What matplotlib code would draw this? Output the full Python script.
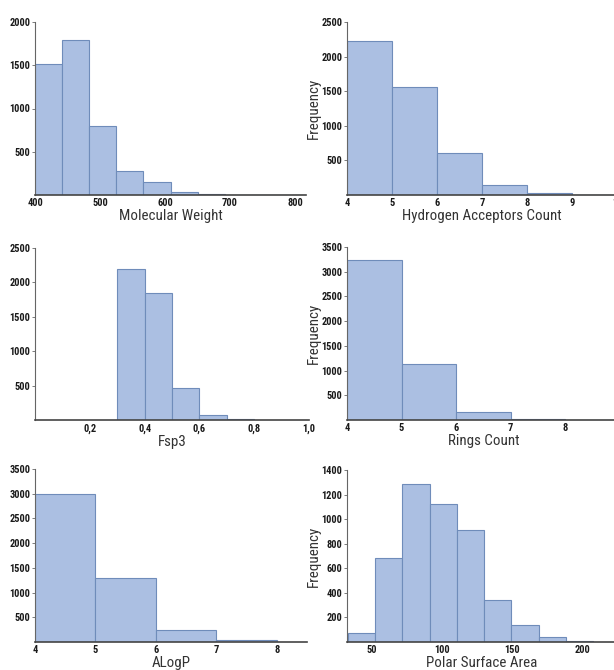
import numpy as np
import matplotlib
matplotlib.use("Agg")
import matplotlib.pyplot as plt

W, H = 614, 670

# histogram data (bin edges + counts)
mw_edges = [400, 441.7, 483.4, 525.1, 566.8, 608.5, 650.2, 691.9, 733.6, 775.3, 817]
mw_counts = [1510, 1790, 800, 275, 150, 35, 6, 2, 1, 1]

hba_edges = [4, 5, 6, 7, 8, 9, 10]
hba_counts = [2220, 1560, 600, 150, 30, 5]

fsp3_edges = [0.3, 0.4, 0.5, 0.6, 0.7, 0.8]
fsp3_counts = [2200, 1850, 460, 70, 15]

rings_edges = [4, 5, 6, 7, 8, 9]
rings_counts = [3230, 1140, 170, 30, 3]

alogp_edges = [4, 5, 6, 7, 8]
alogp_counts = [3000, 1290, 240, 40]

psa_edges = [32.5, 52, 71.5, 91, 110.5, 130, 149.5, 169, 188.5, 208]
psa_counts = [70, 680, 1290, 1120, 910, 340, 140, 40, 12]

narrow = ['Roboto Condensed', 'Liberation Sans Narrow', 'DejaVu Sans']
fill = '#abbfe2'
edge = '#6f8cba'


def px_rect(l, t, r, b):
    return [l / W, 1 - b / H, (r - l) / W, (b - t) / H]


def hist_panel(fig, rect, edges, counts, xlim, ylim, xticks, xticklabels,
               yticks, xlabel, ylabel=None):
    ax = fig.add_axes(rect)
    edges = np.asarray(edges, dtype=float)
    ax.bar(edges[:-1], counts, width=np.diff(edges), align='edge',
           color=fill, edgecolor=edge, linewidth=0.8)
    ax.set_xlim(*xlim)
    ax.set_ylim(*ylim)
    ax.set_xticks(xticks)
    ax.set_xticklabels(xticklabels)
    ax.set_yticks(yticks)
    for lab in ax.get_xticklabels() + ax.get_yticklabels():
        lab.set_family(narrow)
        lab.set_stretch('condensed')
        lab.set_fontweight('bold')
        lab.set_fontsize(7.5)
        lab.set_color('#1a1a1a')
    ax.tick_params(axis='x', length=0, pad=2.5)
    ax.tick_params(axis='y', length=2, width=0.6, color='#666666', pad=1.5)
    ax.spines['top'].set_visible(False)
    ax.spines['right'].set_visible(False)
    ax.spines['left'].set_color('#666666')
    ax.spines['left'].set_linewidth(0.8)
    ax.spines['bottom'].set_color('#444444')
    ax.spines['bottom'].set_linewidth(1.2)
    ax.set_xlabel(xlabel, family=narrow, stretch='condensed', fontsize=10.8,
                  color='#333333', labelpad=0.5)
    if ylabel:
        ax.set_ylabel(ylabel, family=narrow, stretch='condensed', fontsize=10.8,
                      color='#333333', labelpad=0.5)
    return ax


fig = plt.figure(figsize=(W / 100, H / 100), dpi=100)

hist_panel(fig, px_rect(35, 22, 306, 195), mw_edges, mw_counts,
           (400, 817), (0, 2000), [400, 500, 600, 700, 800],
           ['400', '500', '600', '700', '800'],
           [500, 1000, 1500, 2000], 'Molecular Weight')

hist_panel(fig, px_rect(347, 22, 617, 195), hba_edges, hba_counts,
           (4, 10), (0, 2500), [4, 5, 6, 7, 8, 9, 10],
           ['4', '5', '6', '7', '8', '9', '10'],
           [500, 1000, 1500, 2000, 2500], 'Hydrogen Acceptors Count', 'Frequency')

hist_panel(fig, px_rect(35, 248, 309, 420), fsp3_edges, fsp3_counts,
           (0, 1.0), (0, 2500), [0.2, 0.4, 0.6, 0.8, 1.0],
           ['0,2', '0,4', '0,6', '0,8', '1,0'],
           [500, 1000, 1500, 2000, 2500], 'Fsp3')

hist_panel(fig, px_rect(347, 247, 620, 420), rings_edges, rings_counts,
           (4, 9), (0, 3500), [4, 5, 6, 7, 8],
           ['4', '5', '6', '7', '8'],
           [500, 1000, 1500, 2000, 2500, 3000, 3500], 'Rings Count', 'Frequency')

hist_panel(fig, px_rect(35, 469, 307, 642), alogp_edges, alogp_counts,
           (4, 8.5), (0, 3500), [4, 5, 6, 7, 8],
           ['4', '5', '6', '7', '8'],
           [500, 1000, 1500, 2000, 2500, 3000, 3500], 'ALogP')

hist_panel(fig, px_rect(347, 470, 617, 642), psa_edges, psa_counts,
           (32, 225), (0, 1400), [50, 100, 150, 200],
           ['50', '100', '150', '200'],
           [200, 400, 600, 800, 1000, 1200, 1400], 'Polar Surface Area', 'Frequency')

fig.savefig('out.png', dpi=100)
